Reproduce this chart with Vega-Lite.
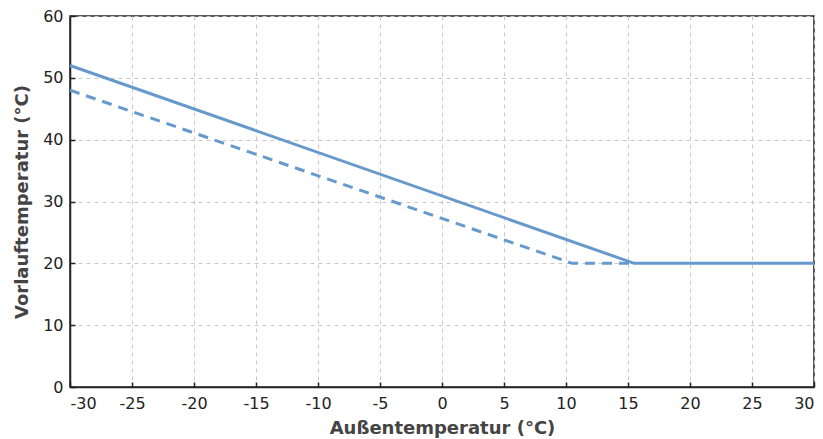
{
  "$schema": "https://vega.github.io/schema/vega-lite/v6.json",
  "autosize": "none",
  "width": 744,
  "height": 371,
  "padding": {"left": 70, "top": 16, "right": 9, "bottom": 52},
  "background": "white",
  "data": {"values": [
    {"t": -30, "v": 52, "s": "a"},
    {"t": 15.5, "v": 20, "s": "a"},
    {"t": 30, "v": 20, "s": "a"},
    {"t": -30, "v": 48, "s": "b"},
    {"t": 10.5, "v": 20, "s": "b"},
    {"t": 15.5, "v": 20, "s": "b"}
  ]},
  "config": {
    "view": {"stroke": "#222", "strokeWidth": 1.5},
    "font": "DejaVu Sans",
    "axis": {
      "grid": true,
      "gridColor": "#c8c8c8",
      "gridDash": [4, 4],
      "gridWidth": 1,
      "domainColor": "#222",
      "domainWidth": 1.5,
      "tickColor": "#222",
      "tickSize": -5,
      "tickWidth": 1.5,
      "labelFont": "DejaVu Sans",
      "labelFontSize": 16,
      "labelColor": "#222",
      "labelExpr": "'' + datum.value",
      "titleFont": "DejaVu Sans",
      "titleFontSize": 18,
      "titleFontWeight": "bold",
      "titleColor": "#444"
    }
  },
  "layer": [
    {
      "transform": [{"filter": "datum.s === 'b'"}],
      "mark": {"type": "line", "color": "#6699cc", "strokeWidth": 3, "strokeDash": [10, 7]},
      "encoding": {
        "x": {"field": "t", "type": "quantitative"},
        "y": {"field": "v", "type": "quantitative"}
      }
    },
    {
      "transform": [{"filter": "datum.s === 'a'"}],
      "mark": {"type": "line", "color": "#6699cc", "strokeWidth": 3},
      "encoding": {
        "x": {"field": "t", "type": "quantitative", "scale": {"domain": [-30, 30], "nice": false}, "axis": {"values": [-30, -25, -20, -15, -10, -5, 0, 5, 10, 15, 20, 25, 30], "title": "Außentemperatur (°C)", "labelPadding": 13, "titlePadding": 8}},
        "y": {"field": "v", "type": "quantitative", "scale": {"domain": [0, 60], "nice": false}, "axis": {"values": [0, 10, 20, 30, 40, 50, 60], "title": "Vorlauftemperatur (°C)", "labelPadding": 12, "titlePadding": 11}}
      }
    }
  ]
}
